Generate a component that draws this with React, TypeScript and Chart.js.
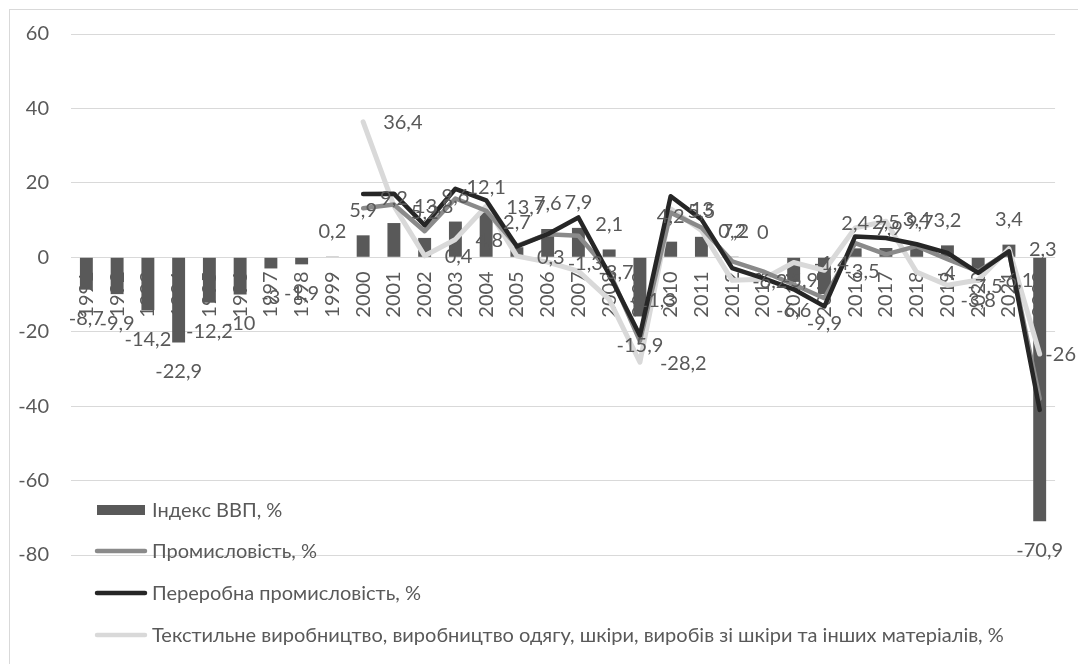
import React, { useEffect, useRef } from "react";
import { Chart, registerables } from "chart.js";

Chart.register(...registerables);

// ---- data ----
const years = [
  "1991", "1992", "1993", "1994", "1995", "1996", "1997", "1998", "1999", "2000",
  "2001", "2002", "2003", "2004", "2005", "2006", "2007", "2008", "2009", "2010",
  "2011", "2012", "2013", "2014", "2015", "2016", "2017", "2018", "2019", "2020",
  "2021", "2022",
];

const gdp = [
  -8.7, -9.9, -14.2, -22.9, -12.2, -10, -3, -1.9, 0.2, 5.9,
  9.2, 5.2, 9.6, 12.1, 2.7, 7.6, 7.9, 2.1, -15.9, 4.2,
  5.5, 0.2, 0, -6.6, -9.9, 2.4, 2.5, 3.4, 3.2, -3.8,
  3.4, -70.9,
];

const industry = [
  null, null, null, null, null, null, null, null, null, 13.2,
  14.2, 7.0, 15.8, 12.5, 3.1, 6.2, 5.8, -3.8, -22.5, 12.0,
  8.0, -1.1, -3.8, -7.3, -11.0, 3.8, 0.8, 3.0, -0.5, -3.8,
  1.5, -38,
];

const processing = [
  null, null, null, null, null, null, null, null, null, 17.0,
  17.1, 8.6, 18.4, 15.3, 2.9, 6.2, 10.7, -4.6, -21.0, 16.4,
  10.2, -2.9, -5.6, -8.6, -13.2, 5.6, 5.2, 3.5, 1.2, -4.2,
  1.6, -41.0,
];

const textile = [
  null, null, null, null, null, null, null, null, null, 36.4,
  13.8, 0.4, 4.8, 13.7, 0.3, -1.3, -3.7, -11.3, -28.2, 13,
  7.2, -6.2, -5.9, -1.4, -3.5, 7.9, 9.7, -4, -7.5, -6.1,
  2.3, -26,
];

const yMin = -80;
const yMax = 60;
const yStep = 20;

const seriesNames = [
  "Індекс ВВП, %",
  "Промисловість, %",
  "Переробна промисловість, %",
  "Текстильне виробництво, виробництво одягу, шкіри, виробів зі шкіри та інших матеріалів, %",
];

// ---- styles ----
const FONT = "Lato, 'Open Sans', sans-serif";
const TEXT = "#595959";
const BAR = "#595959";
const IND = "#8a8a8a";
const PROC = "#262626";
const TEX = "#d9d9d9";
const GRID = "#d9d9d9";
const FS = 20;
const W = 1078;
const H = 664;

const fmt = (v: number) => String(v).replace(".", ",");

const labelPlugin = {
  id: "valueLabels",
  afterDatasetsDraw(chart: any) {
    const ctx = chart.ctx;
    ctx.save();
    ctx.font = `${FS}px ${FONT}`;
    ctx.fillStyle = TEXT;
    ctx.textBaseline = "middle";
    ctx.textAlign = "center";
    chart.getDatasetMeta(0).data.forEach((el: any, i: number) => {
      const v = gdp[i];
      const y = v >= 0 ? el.y - 25 : el.y + 29;
      ctx.fillText(fmt(v), el.x, y);
    });
    ctx.textAlign = "left";
    chart.getDatasetMeta(3).data.forEach((el: any, i: number) => {
      const v = textile[i];
      if (v === null || v === undefined) return;
      const t = fmt(v);
      const w = ctx.measureText(t).width;
      const x = Math.min(el.x + 20, W - 2 - w);
      ctx.fillText(t, x, el.y + 1);
    });
    ctx.restore();
  },
};

const frameLegendPlugin = {
  id: "frameLegend",
  afterDraw(chart: any) {
    const ctx = chart.ctx;
    ctx.save();
    // outer frame
    ctx.strokeStyle = GRID;
    ctx.lineWidth = 1;
    ctx.strokeRect(9.5, 9.5, 1200, 1200);
    // legend
    const rows = [510, 551, 593, 635];
    const colors = [BAR, IND, PROC, TEX];
    ctx.font = `${FS}px ${FONT}`;
    ctx.textBaseline = "middle";
    ctx.textAlign = "left";
    rows.forEach((ry, i) => {
      if (i === 0) {
        ctx.fillStyle = colors[i];
        ctx.fillRect(97, ry - 5, 48, 10);
      } else {
        ctx.strokeStyle = colors[i];
        ctx.lineWidth = 4.5;
        ctx.lineCap = "round";
        ctx.beginPath();
        ctx.moveTo(97, ry);
        ctx.lineTo(145, ry);
        ctx.stroke();
      }
      ctx.fillStyle = TEXT;
      ctx.fillText(seriesNames[i], 152, ry + 1);
    });
    ctx.restore();
  },
};

export default function App() {
  const ref = useRef<HTMLCanvasElement | null>(null);

  useEffect(() => {
    if (!ref.current) return;
    const lineCommon = {
      type: "line" as const,
      pointRadius: 0,
      borderWidth: 4.5,
      tension: 0,
      borderCapStyle: "round" as const,
      borderJoinStyle: "round" as const,
      spanGaps: false,
    };
    const chart = new Chart(ref.current, {
      type: "bar",
      data: {
        labels: years,
        datasets: [
          {
            type: "bar",
            label: seriesNames[0],
            data: gdp,
            backgroundColor: BAR,
            categoryPercentage: 0.42,
            barPercentage: 1,
            order: 4,
          },
          { ...lineCommon, label: seriesNames[1], data: industry, borderColor: IND, backgroundColor: IND, order: 2 },
          { ...lineCommon, label: seriesNames[2], data: processing, borderColor: PROC, backgroundColor: PROC, order: 1 },
          { ...lineCommon, borderWidth: 5, label: seriesNames[3], data: textile, borderColor: TEX, backgroundColor: TEX, order: 3 },
        ] as any,
      },
      options: {
        animation: false,
        responsive: false,
        maintainAspectRatio: false,
        layout: { padding: { left: 9, top: 20, right: 20, bottom: 109 } },
        plugins: {
          legend: { display: false },
          tooltip: { enabled: false },
        },
        scales: {
          x: {
            position: { y: 0 } as any,
            grid: { display: false, drawTicks: false },
            border: { display: false },
            ticks: {
              autoSkip: false,
              minRotation: 90,
              maxRotation: 90,
              padding: 14,
              color: TEXT,
              font: { family: FONT, size: FS },
            },
          },
          y: {
            min: yMin,
            max: yMax,
            grid: { color: GRID, lineWidth: 1, drawTicks: false },
            border: { display: false },
            ticks: {
              stepSize: yStep,
              padding: 22,
              color: TEXT,
              font: { family: FONT, size: FS },
            },
            afterFit(scale: any) {
              scale.width = 62;
            },
          },
        },
      },
      plugins: [labelPlugin, frameLegendPlugin],
    });
    return () => chart.destroy();
  }, []);

  return (
    <div style={{ position: "fixed", left: 0, top: 0, width: W, height: H, background: "#fff" }}>
      <canvas ref={ref} width={W} height={H} style={{ display: "block" }} />
    </div>
  );
}
